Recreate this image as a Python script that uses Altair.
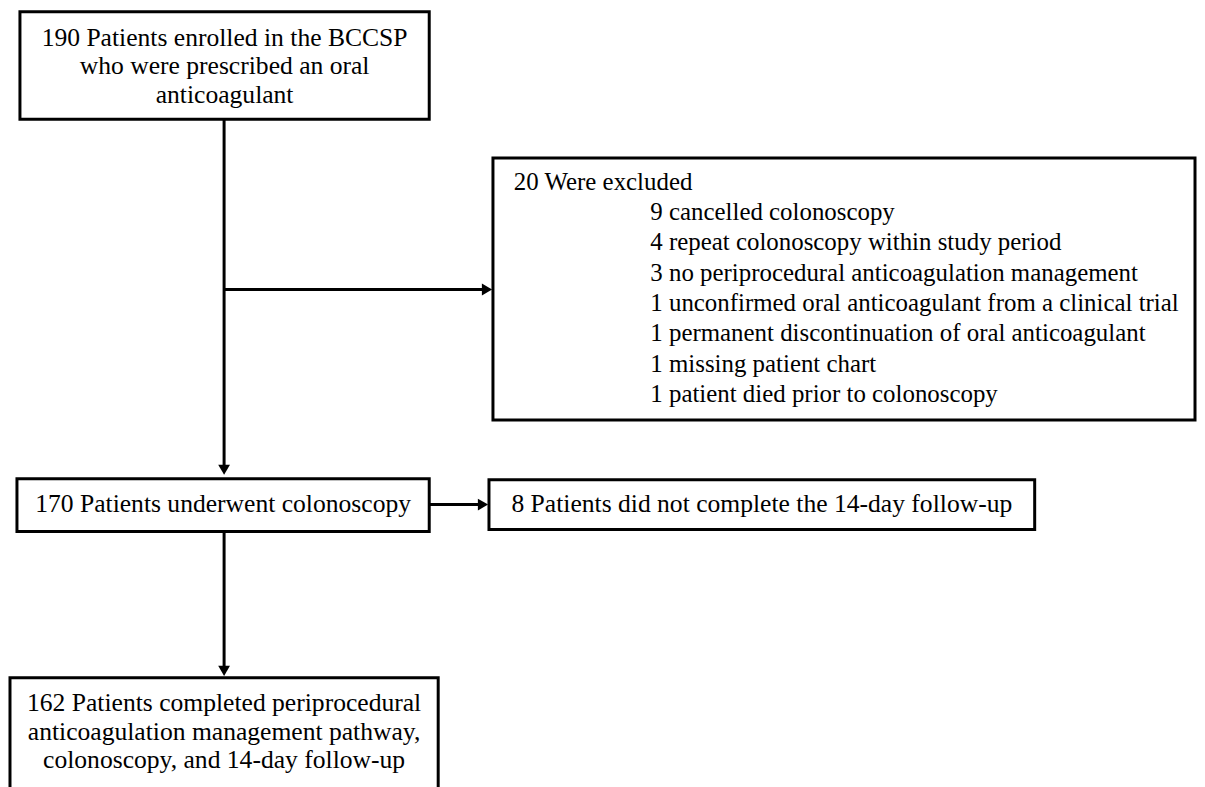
import altair as alt
import pandas as pd

# ---- content ----
box_labels = [
    "190 Patients enrolled in the BCCSP\nwho were prescribed an oral\nanticoagulant",
    "",
    "170 Patients underwent colonoscopy",
    "8 Patients did not complete the 14-day follow-up",
    "162 Patients completed periprocedural\nanticoagulation management pathway,\ncolonoscopy, and 14-day follow-up",
]
excl_header = "20 Were excluded"
excl_items = [
    "9 cancelled colonoscopy",
    "4 repeat colonoscopy within study period",
    "3 no periprocedural anticoagulation management",
    "1 unconfirmed oral anticoagulant from a clinical trial",
    "1 permanent discontinuation of oral anticoagulant",
    "1 missing patient chart",
    "1 patient died prior to colonoscopy",
]

# ---- layout (page pixel coordinates) ----
box_x0 = [17, 492, 14, 488, 7]
box_x1 = [428, 1197, 428, 1036, 437]
box_y0 = [8, 155, 477, 478, 677]
box_y1 = [116, 418, 530, 528, 800]
text_y = [34, 0, 502, 502, 702]

line_x = [222, 222, 428, 222]
line_x2 = [222, 484, 480, 222]
line_y = [116, 287, 503, 530]
line_y2 = [466, 287, 503, 668]

tip_x = [222, 486, 482, 222]
tip_y = [468, 287, 503, 670]
tip_shape = ["triangle-down", "triangle-right", "triangle-right", "triangle-down"]

item_y0 = 209
item_step = 30.5

FONT = "Liberation Serif"
FS = 25.7
FS_EXCL = 25

xs = alt.Scale(domain=[8, 1197], nice=False, zero=False)
ys = alt.Scale(domain=[8, 779], nice=False, zero=False, reverse=True)

boxes = pd.DataFrame({"x0": box_x0, "x1": box_x1, "y0": box_y0, "y1": box_y1,
                      "label": box_labels, "ty": text_y})
boxes["cx"] = (boxes.x0 + boxes.x1) / 2
lines = pd.DataFrame({"x": line_x, "x2": line_x2, "y": line_y, "y2": line_y2})
tips = pd.DataFrame({"x": tip_x, "y": tip_y, "shape": tip_shape})
excl = pd.DataFrame({
    "t": [excl_header] + excl_items,
    "x": [513] + [650] * len(excl_items),
    "y": [179] + [item_y0 + item_step * i for i in range(len(excl_items))],
})

X = lambda f: alt.X(f, type="quantitative", scale=xs, axis=None)
Y = lambda f: alt.Y(f, type="quantitative", scale=ys, axis=None)

rects = alt.Chart(boxes).mark_rect(fill="white", stroke="black", strokeWidth=3).encode(
    x=X("x0"), x2="x1", y=Y("y0"), y2="y1")

rules = alt.Chart(lines).mark_rule(color="black", strokeWidth=3).encode(
    x=X("x"), x2="x2", y=Y("y"), y2="y2")

heads = alt.Chart(tips).mark_point(filled=True, color="black", size=140, opacity=1).encode(
    x=X("x"), y=Y("y"),
    shape=alt.Shape("shape:N", scale=None, legend=None))

box_text = alt.Chart(boxes[boxes.label != ""]).mark_text(
    font=FONT, fontSize=FS, align="center", baseline="middle", lineBreak="\n",
    lineHeight=29, color="black").encode(
    x=X("cx"), y=Y("ty"), text="label:N")

excl_text = alt.Chart(excl).mark_text(
    font=FONT, fontSize=FS_EXCL, align="left", baseline="middle", color="black").encode(
    x=X("x"), y=Y("y"), text="t:N")

chart = alt.layer(rects, rules, heads, box_text, excl_text).properties(
    width=1189, height=771, padding=0, background="white"
).configure_view(stroke=None)

chart.save("out.html", embed_options={"renderer": "svg", "actions": False})
